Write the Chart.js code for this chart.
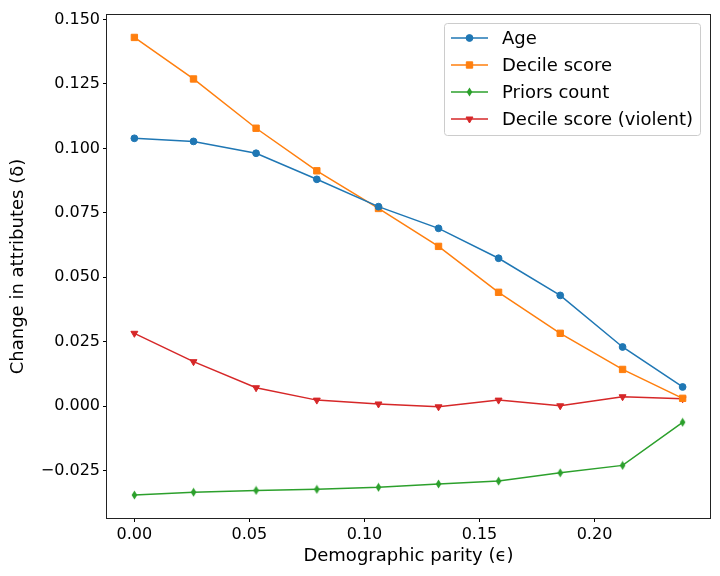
<!DOCTYPE html>
<html>
<head>
<meta charset="utf-8">
<script src="https://cdn.jsdelivr.net/npm/chart.js@4/dist/chart.umd.min.js"></script>
<style>
  body { margin: 0; background: #fff; }
  #wrap { width: 720px; height: 576px; }
</style>
</head>
<body>
<div id="wrap"><canvas id="chart" width="720" height="576"></canvas></div>
<script>
// demographic parity (x) for every run
const parity = [0, 0.0257, 0.0529, 0.0793, 0.1061, 0.1322, 0.1583, 0.1851, 0.2122, 0.2383];

// change in attributes per feature
const ageVals = [0.1039, 0.1027, 0.0981, 0.0880, 0.0774, 0.0690, 0.0574, 0.0430, 0.0230, 0.0075];
const decileVals = [0.1430, 0.1269, 0.1078, 0.0913, 0.0767, 0.0620, 0.0442, 0.0283, 0.0143, 0.0031];
const priorsVals = [-0.0344, -0.0333, -0.0326, -0.0322, -0.0314, -0.0301, -0.0290, -0.0258, -0.0229, -0.0062];
const violentVals = [0.0283, 0.0173, 0.0072, 0.0024, 0.0009, -0.0002, 0.0024, 0.0002, 0.0037, 0.0029];

const xTicks = [0, 0.05, 0.10, 0.15, 0.20];
const yTicks = [-0.025, 0, 0.025, 0.05, 0.075, 0.10, 0.125, 0.15];

Chart.defaults.font.family = "'DejaVu Sans'";
Chart.defaults.color = "#000";

// matplotlib style thin diamond marker
function thinDiamond(color) {
    const c = document.createElement("canvas");
    c.width = 7;
    c.height = 10;
    const g = c.getContext("2d");
    g.fillStyle = color;
    g.beginPath();
    g.moveTo(3.5, 0.4);
    g.lineTo(6.3, 5);
    g.lineTo(3.5, 9.6);
    g.lineTo(0.7, 5);
    g.closePath();
    g.fill();
    return c;
}

function series(label, vals, color, style, radius, rotation) {
    return {
        label: label,
        data: parity.map((x, i) => ({ x: x, y: vals[i] })),
        borderColor: color,
        backgroundColor: color,
        borderWidth: 1.5,
        tension: 0,
        pointStyle: style,
        pointRadius: radius,
        pointRotation: rotation || 0,
        pointBackgroundColor: color,
        pointBorderColor: color,
        pointBorderWidth: 1
    };
}

const datasets = [
    series("Age", ageVals, "#1f77b4", "circle", 3.4),
    series("Decile score", decileVals, "#ff7f0e", "rect", 4.5),
    series("Priors count", priorsVals, "#2ca02c", thinDiamond("#2ca02c"), 4),
    series("Decile score (violent)", violentVals, "#d62728", "triangle", 4, 180)
];

// frame around the plot + legend box in the upper right
const framePlugin = {
    id: "frame",
    afterDraw(chart) {
        const ctx = chart.ctx;
        const a = chart.chartArea;
        ctx.save();
        ctx.strokeStyle = "#222";
        ctx.lineWidth = 1;
        ctx.strokeRect(Math.round(a.left) - 0.5, Math.round(a.top) - 0.5,
            Math.round(a.right - a.left) + 1, Math.round(a.bottom - a.top) + 1);

        // legend
        const bx = 444.5, by = 23.5, bw = 256, bh = 112;
        ctx.beginPath();
        ctx.roundRect(bx, by, bw, bh, 3);
        ctx.fillStyle = "rgba(255,255,255,0.8)";
        ctx.fill();
        ctx.strokeStyle = "#cccccc";
        ctx.stroke();

        ctx.font = "18px 'DejaVu Sans'";
        ctx.textBaseline = "middle";
        chart.data.datasets.forEach((ds, i) => {
            const y = 38 + i * 27;
            ctx.strokeStyle = ds.borderColor;
            ctx.lineWidth = 1.5;
            ctx.beginPath();
            ctx.moveTo(451, y);
            ctx.lineTo(488, y);
            ctx.stroke();
            ctx.fillStyle = ds.borderColor;
            ctx.lineWidth = 1;
            Chart.helpers.drawPoint(ctx, {
                pointStyle: ds.pointStyle,
                radius: ds.pointRadius,
                rotation: ds.pointRotation,
                borderWidth: 1
            }, 469.5, y);
            ctx.fillStyle = "#000";
            ctx.fillText(ds.label, 502, y + 1);
        });
        ctx.restore();
    }
};

function fmt(v, d) {
    const s = Math.abs(v).toFixed(d);
    return v < -1e-9 ? "\u2212" + s : s;
}

new Chart(document.getElementById("chart"), {
    type: "line",
    data: { datasets: datasets },
    plugins: [framePlugin],
    options: {
        responsive: false,
        animation: false,
        events: [],
        layout: { padding: { left: 0, right: 10, top: 15, bottom: 0 } },
        plugins: {
            legend: { display: false },
            tooltip: { enabled: false }
        },
        scales: {
            x: {
                type: "linear",
                min: -0.0119,
                max: 0.2502,
                afterBuildTicks: axis => { axis.ticks = xTicks.map(v => ({ value: v })); },
                afterFit: axis => { axis.height = 58; },
                border: { display: false },
                grid: { drawOnChartArea: false, drawTicks: true, tickLength: 4, color: "#000" },
                ticks: {
                    padding: 3,
                    maxRotation: 0,
                    font: { size: 16 },
                    callback: v => fmt(v, 2)
                },
                title: {
                    display: true,
                    text: "Demographic parity (\u03f5)",
                    font: { size: 18 },
                    padding: { top: 0, bottom: 9 }
                }
            },
            y: {
                type: "linear",
                min: -0.0433,
                max: 0.1517,
                afterBuildTicks: axis => { axis.ticks = yTicks.map(v => ({ value: v })); },
                afterFit: axis => { axis.width = 107; },
                border: { display: false },
                grid: { drawOnChartArea: false, drawTicks: true, tickLength: 4, color: "#000" },
                ticks: {
                    padding: 3,
                    font: { size: 16 },
                    callback: v => fmt(v, 3)
                },
                title: {
                    display: true,
                    text: "Change in attributes (\u03b4)",
                    font: { size: 18 },
                    padding: { top: 8, bottom: 0 }
                }
            }
        }
    }
});
</script>
</body>
</html>
